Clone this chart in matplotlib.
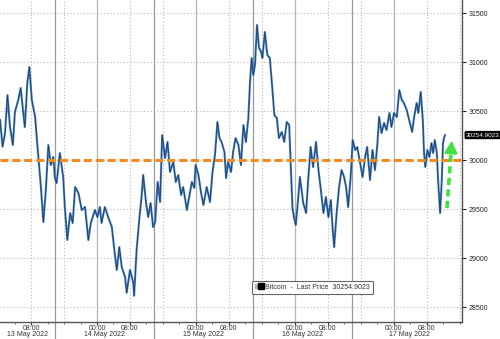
import matplotlib.pyplot as plt
import matplotlib.dates as mdates
from matplotlib.lines import Line2D
from matplotlib.legend_handler import HandlerTuple
import pandas as pd

plt.rcParams['font.family'] = ['Liberation Sans', 'DejaVu Sans']

# hours since 13 May 2022 00:00 and Bitcoin price
hours = [0.5, 1.1, 1.7, 2.3, 2.9, 3.6, 4.1, 4.9, 5.5, 6.0, 6.5, 7.1, 7.6, 8.2, 9.0,
         9.4, 10.0, 10.4, 11.0, 11.6, 12.2, 12.8, 13.4, 13.8, 14.2, 15.0, 15.8, 16.2,
         16.8, 17.5, 18.1, 18.7, 19.5, 20.3, 21.1, 21.9, 22.5, 23.5, 24.1, 24.7, 25.1,
         25.9, 26.7, 27.6, 28.4, 28.8, 29.4, 30.0, 30.8, 31.2, 32.0, 32.8, 33.0, 33.6,
         34.3, 34.8, 35.2, 35.9, 36.4, 37.0, 37.6,
         38.1, 38.7, 39.3, 39.8, 40.5, 41.1, 41.7, 42.5, 43.1, 43.7, 44.4, 44.9, 45.8,
         46.3, 47.0, 47.6, 47.9, 48.6, 49.2, 49.8, 50.6, 51.4, 52.0, 52.6, 53.2, 53.7,
         54.2, 54.9, 55.3, 55.8, 56.5, 57.0, 57.6, 58.3, 58.9, 59.5, 60.1, 60.7, 61.1,
         61.5, 61.9, 62.3, 62.8, 63.3, 63.8, 64.1, 64.7, 65.3, 65.9, 66.5, 67.0, 67.6,
         68.1, 68.8, 69.4, 70.0, 70.6, 71.0, 71.4, 71.8, 72.2, 72.7,
         73.2, 74.0, 74.7, 75.2, 75.8, 76.4, 77.1, 77.7, 78.2, 78.9, 79.5, 80.1, 80.7,
         81.1, 81.5, 82.1, 82.7, 83.3, 83.9, 84.4, 84.9, 85.5, 86.0, 86.6, 87.1, 87.8,
         88.4, 89.0, 89.5, 90.2, 90.8, 91.4, 92.0, 92.4, 93.0, 93.6, 94.2, 94.9, 95.4,
         96.0, 96.7, 97.3, 97.9, 98.4, 99.1, 99.7, 100.4, 100.9, 101.5, 101.9, 102.5,
         103.0, 103.3, 103.6, 104.1, 104.6, 105.1, 105.5, 105.9, 106.4, 106.7, 107.2,
         107.6, 107.9, 108.2, 108.4]
price = [30408, 30136, 30275, 30663, 30337, 30153, 30490, 30612, 30735, 30530, 30337,
         30786, 30950, 30612, 30439, 30224, 29929, 29724, 29367, 29694, 30153, 29949,
         30031, 29816, 29765, 30071, 29827, 29520, 29184, 29459, 29357, 29724, 29663,
         29490, 29520, 29184, 29357, 29490, 29418, 29520, 29357, 29520, 29418, 29316,
         29010, 28878, 29112, 28908, 28806, 28645, 28878, 28745, 28615, 29082, 29418,
         29622, 29847, 29561, 29418, 29561, 29316,
         29367, 29776, 29571, 30255, 30020, 30184, 29878, 29980, 29776, 29847, 29643,
         29724, 29490, 29612, 29776, 29714, 29949, 29847, 29673, 29541, 29724, 29571,
         29878, 30051, 30388, 30224, 30184, 30082, 29816, 29980, 29878, 30082, 30224,
         30153, 29949, 30357, 30184, 30429, 30796, 31041, 30867, 30969, 31378, 31143,
         31102, 31041, 31306, 31071, 31041, 30735, 30459, 30429, 30224, 30286, 30184,
         30388, 30357, 29918, 29510, 29408, 29337, 29571,
         29827, 29561, 29459, 29796, 30133, 29929, 30184, 29898, 29724, 29459, 29622,
         29418, 29592, 29316, 29112, 29459, 29724, 29898, 29827, 29724, 29520, 29827,
         30204, 30102, 30133, 29969, 29827, 30031, 30133, 29796, 30102, 29898, 30173,
         30439, 30275, 30378, 30306, 30480, 30337, 30480, 30439, 30714, 30612, 30582,
         30510, 30408, 30286, 30439, 30582, 30480, 30694, 30408, 30071, 29929, 30102,
         30031, 30173, 30071, 30204, 30071, 29796, 29459, 29796, 30173, 30235, 30254.9023]

last_price = 30254.9023
level = 30000
arrow_from = (108.85, 29510)
arrow_to = (110.05, 30225)
yticks = [28500, 29000, 29500, 30000, 30500, 31000, 31500]
days = ['13 May 2022', '14 May 2022', '15 May 2022', '16 May 2022', '17 May 2022']

t0 = pd.Timestamp('2022-05-13')
def ts(h):
    return t0 + pd.Timedelta(hours=h)

times = [ts(h) for h in hours]

fig = plt.figure(figsize=(5, 3.39), dpi=100)
ax = fig.add_axes([0, 0.0501, 0.924, 0.9499])

ax.set_xlim(ts(0.48), ts(112.5))
ax.set_ylim(28347, 31633)

# grid
for y in yticks:
    ax.axhline(y, color='#b8b8b8', lw=0.8, ls=(0, (1, 2)), zorder=0)
for d in range(5):
    ax.axvline(ts(24 * d), color='#b4b4b4', lw=0.9, zorder=0)
    ax.axvline(ts(24 * d + 8), color='#b8b8b8', lw=0.8, ls=(0, (1, 2)), zorder=0)
    ax.axvline(ts(24 * d + 16), color='#b8b8b8', lw=0.8, ls=(0, (1, 2)), zorder=0)
# day separators running down into the label band
seps = [13.8 + 24 * d for d in range(4)]
for s in seps:
    ax.axvline(ts(s), ymin=-0.06, ymax=1, color='#999999', lw=0.9, clip_on=False, zorder=0)

ax.plot(times, price, color='#3d7dc6', lw=1.5, zorder=3)
ax.plot(times, price, color='#1a1a1a', lw=0.45, alpha=0.75, zorder=4)

ax.axhline(level, color='#f28c1e', lw=2.2, dashes=(2.6, 1.3), zorder=5)

# green dashed arrow
ax.plot([ts(arrow_from[0]), ts(arrow_to[0] - 0.15)], [arrow_from[1], arrow_to[1] - 120],
        color='#3fe23f', lw=2.6, dashes=(2.0, 1.2), zorder=6)
ax.annotate('', xy=(ts(arrow_to[0]), arrow_to[1]), xytext=(ts(arrow_to[0] - 0.2), arrow_to[1] - 130),
            arrowprops=dict(arrowstyle='-|>,head_width=0.4,head_length=0.75',
                            color='#3fe23f', lw=1.5), zorder=6)

# axes styling
for side in ['top', 'left']:
    ax.spines[side].set_visible(False)
for side in ['bottom', 'right']:
    ax.spines[side].set_color('#555555')
    ax.spines[side].set_linewidth(1.0)

ax.yaxis.tick_right()
ax.set_yticks(yticks)
ax.set_yticklabels([str(v) for v in yticks])
ax.tick_params(axis='y', direction='out', length=3, width=0.8, colors='#222222',
               labelsize=5, pad=1.5)

ax.xaxis.set_major_locator(mdates.HourLocator(byhour=[0, 8]))
ax.xaxis.set_major_formatter(mdates.DateFormatter('%H:%M'))
ax.xaxis.set_minor_locator(mdates.HourLocator(byhour=[4, 12, 16, 20]))
ax.tick_params(axis='x', which='major', direction='out', length=2, width=0.8,
               colors='#333333', labelsize=5, pad=0.5)
ax.tick_params(axis='x', which='minor', direction='out', length=1.5, width=0.6,
               colors='#555555')

# date labels centred between separators
edges = [0.48] + seps + [113.8]
for i, name in enumerate(days):
    mid = ts((edges[i] + edges[i + 1]) / 2)
    ax.text(mid, -0.039, name, transform=ax.get_xaxis_transform(), ha='center',
            va='center', fontsize=5, color='#333333', clip_on=False)

# last price tag
ax.text(1.009, last_price, '30254.9023', transform=ax.get_yaxis_transform(),
        ha='left', va='center', fontsize=4.6, color='white', clip_on=False,
        bbox=dict(boxstyle='round,pad=0.15,rounding_size=0.2', fc='black', ec='black'))

# legend
h_gray = Line2D([], [], ls='none', marker='s', ms=3, mfc='#b0b0b0', mec='#b0b0b0')
h_black = Line2D([], [], ls='none', marker='s', ms=4, mfc='black', mec='black')
leg = ax.legend([(h_gray, h_black)], ['Bitcoin  -  Last Price  30254.9023'],
                handler_map={tuple: HandlerTuple(ndivide=None, pad=0.1)},
                loc='lower left', bbox_to_anchor=(0.545, 0.087), borderaxespad=0,
                fontsize=5, handlelength=1.2, handletextpad=0.3, borderpad=0.45,
                fancybox=True, framealpha=1, edgecolor='#666666')
leg.get_frame().set_linewidth(0.8)
for txt in leg.get_texts():
    txt.set_color('#333333')

fig.savefig('out.png', dpi=100)
